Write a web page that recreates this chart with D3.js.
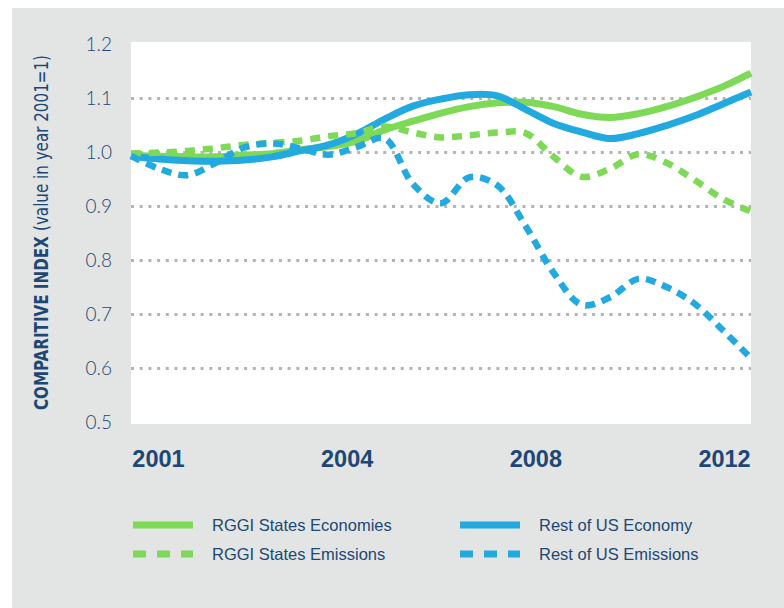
<!DOCTYPE html>
<html>
<head>
<meta charset="utf-8">
<script src="https://cdn.jsdelivr.net/npm/d3@7/dist/d3.min.js"></script>
<style>
  body { margin: 0; background: #fff; }
  svg { display: block; }
</style>
</head>
<body>
<svg width="784" height="608"></svg>
<script>
// half-year sample points
var years = [2001, 2001.5, 2002, 2002.5, 2003, 2003.5, 2004, 2004.5, 2005, 2005.5, 2006, 2006.5,
             2007, 2007.5, 2008, 2008.5, 2009, 2009.5, 2010, 2010.5, 2011, 2011.5, 2012];

var rggiEconomy   = [0.994, 0.992, 0.991, 0.991, 0.994, 0.997, 1.004, 1.010, 1.020, 1.041, 1.057, 1.072,
                     1.084, 1.091, 1.092, 1.084, 1.070, 1.064, 1.071, 1.084, 1.101, 1.121, 1.146];
var usEconomy     = [0.992, 0.987, 0.984, 0.983, 0.985, 0.991, 1.002, 1.013, 1.033, 1.061, 1.085, 1.098,
                     1.106, 1.104, 1.079, 1.053, 1.037, 1.025, 1.034, 1.049, 1.067, 1.089, 1.111];
var rggiEmissions = [0.997, 0.999, 1.002, 1.007, 1.013, 1.017, 1.021, 1.029, 1.035, 1.047, 1.036, 1.027,
                     1.031, 1.036, 1.035, 0.991, 0.954, 0.969, 0.996, 0.980, 0.948, 0.913, 0.890];
var usEmissions   = [0.993, 0.969, 0.957, 0.980, 1.008, 1.016, 1.007, 0.995, 1.009, 1.025, 0.941, 0.905,
                     0.953, 0.938, 0.863, 0.776, 0.717, 0.731, 0.765, 0.750, 0.719, 0.670, 0.618];

var yTicks = [0.5, 0.6, 0.7, 0.8, 0.9, 1.0, 1.1, 1.2];
var gridTicks = [0.6, 0.7, 0.8, 0.9, 1.0, 1.1];
var xLabels = ["2001", "2004", "2008", "2012"];

var seriesNames = ["RGGI States Economies", "Rest of US Economy", "RGGI States Emissions", "Rest of US Emissions"];

var GREEN = "#7ed957", BLUE = "#22a9e0", NAVY = "#1d4775";

var svg = d3.select("svg");
var plotLeft = 131, plotRight = 751, plotTop = 44, plotBottom = 422;

// backgrounds
svg.append("rect").attr("x", 12).attr("y", 8).attr("width", 772).attr("height", 600).attr("fill", "#e3e5e4");
svg.append("rect").attr("x", plotLeft).attr("y", 42).attr("width", plotRight - plotLeft).attr("height", 382).attr("fill", "#fff");

var x = d3.scaleLinear().domain([2001, 2012]).range([plotLeft, plotRight]);
var y = d3.scaleLinear().domain([0.5, 1.2]).range([plotBottom, plotTop]);
var xl = d3.scalePoint().domain(xLabels).range([plotLeft, plotRight]).padding(0.143);

// dotted grid
var grid = svg.append("g").attr("transform", "translate(" + plotLeft + ",0)")
  .call(d3.axisLeft(y).tickValues(gridTicks).tickSize(-(plotRight - plotLeft)).tickFormat(""));
grid.select(".domain").remove();
grid.selectAll("line").attr("stroke", "#b4b4b4").attr("stroke-width", 3).attr("stroke-dasharray", "3,5.7");

// y axis labels
var ya = svg.append("g").attr("transform", "translate(112,0)")
  .call(d3.axisLeft(y).tickValues(yTicks).tickSize(0).tickPadding(0).tickFormat(d3.format(".1f")));
ya.select(".domain").remove();
ya.selectAll("text").attr("fill", NAVY).attr("font-family", "Lato, 'Liberation Sans', sans-serif")
  .attr("font-weight", 300).attr("font-size", 19).attr("dy", "0.35em");

// x axis labels
var xa = svg.append("g").attr("transform", "translate(0,467)")
  .call(d3.axisBottom(xl).tickSize(0).tickPadding(0));
xa.select(".domain").remove();
xa.selectAll("text").attr("fill", NAVY).attr("font-family", "'Liberation Sans', Arial, sans-serif")
  .attr("font-weight", 700).attr("font-size", 23.5).attr("dy", 0);

// y title
var yt = svg.append("text")
  .attr("transform", "translate(47.5,232.5) rotate(-90)")
  .attr("text-anchor", "middle")
  .attr("fill", NAVY)
  .attr("font-family", "'Liberation Sans Narrow', 'DejaVu Sans Condensed', sans-serif")
  .attr("font-size", 19)
  .attr("textLength", 355)
  .attr("lengthAdjust", "spacingAndGlyphs");
yt.append("tspan").attr("font-weight", 700).text("COMPARITIVE INDEX ");
yt.append("tspan").attr("font-weight", 400).text("(value in year 2001=1)");

// lines
var line = d3.line()
  .x(function(d, i){ return x(years[i]); })
  .y(function(d){ return y(d); })
  .curve(d3.curveCatmullRom.alpha(0.5));

var series = [
  {name: seriesNames[0], values: rggiEconomy, color: GREEN, dash: null},
  {name: seriesNames[1], values: usEconomy, color: BLUE, dash: null},
  {name: seriesNames[2], values: rggiEmissions, color: GREEN, dash: "10,8"},
  {name: seriesNames[3], values: usEmissions, color: BLUE, dash: "10,7"}
];

svg.append("g").selectAll("path").data(series).enter()
  .append("path")
  .attr("d", function(d){ return line(d.values); })
  .attr("fill", "none")
  .attr("stroke", function(d){ return d.color; })
  .attr("stroke-width", function(d){ return d.dash ? 6.5 : 7; })
  .attr("stroke-dasharray", function(d){ return d.dash; });

// legend
var legendPos = [[133, 525], [460, 525], [133, 554], [460, 554]];
var lg = svg.append("g").selectAll("g").data(series).enter().append("g")
  .attr("transform", function(d, i){ return "translate(" + legendPos[i][0] + "," + legendPos[i][1] + ")"; });
lg.append("line").attr("x1", 0).attr("x2", 60).attr("y1", 0).attr("y2", 0)
  .attr("stroke", function(d){ return d.color; })
  .attr("stroke-width", 7)
  .attr("stroke-dasharray", function(d){ return d.dash ? "13,11" : null; });
lg.append("text").attr("x", 79).attr("dy", "0.35em")
  .attr("fill", NAVY).attr("font-family", "'Liberation Sans', Arial, sans-serif")
  .attr("font-size", 16.5)
  .text(function(d){ return d.name; });
</script>
</body>
</html>
